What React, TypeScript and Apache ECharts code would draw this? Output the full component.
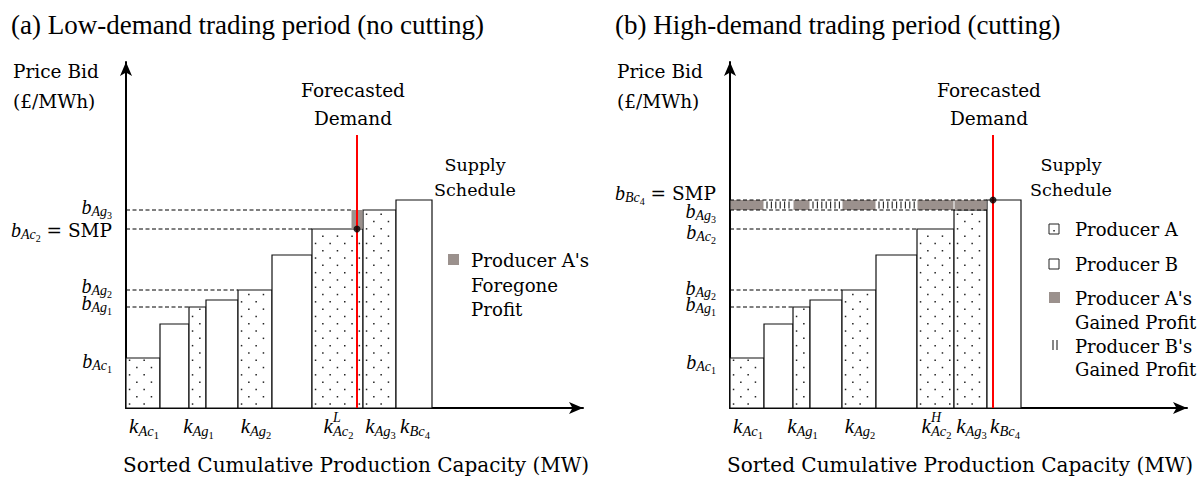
import React, { useEffect, useRef } from "react";
import * as echarts from "echarts";

// ---------------- data ----------------
const producers = ["A", "B", "A", "B", "A", "B", "A", "A", "B"];
const bids = [50, 84, 101, 108, 118, 153, 179, 198, 208];
const capacityLow = [34, 29, 17, 32, 34, 40, 51, 33, 36];
const capacityHigh = [34, 29, 17, 32, 34, 41, 37, 33, 34];
const demandLow = 231;
const demandHigh = 263;
const foregoneFromLow = 225;
const demandLineTop = 273;
const xAxisMax = 457;
const yAxisMax = 346;

const unitType = ["Ac", "", "Ag", "", "Ag", "", "Ac", "Ag", "Bc"];
const unitIdx = ["1", "", "1", "", "2", "", "2", "3", "4"];
const kTickBars = [0, 2, 4, 6, 7, 8];
const kSuper = ["L", "H"];
const bTickBarsLow = [0, 2, 4, 6, 7];
const bTickBarsHigh = [0, 2, 4, 6, 7, 8];
const smpBar = [6, 8];

const titles = ["(a)", "(b)"];
const titleTexts = ["Low-demand trading period (no cutting)", "High-demand trading period (cutting)"];
const yAxisName = ["Price Bid", "(£/MWh)"];
const xAxisName = "Sorted Cumulative Production Capacity (MW)";
const demandName = ["Forecasted", "Demand"];
const supplyName = ["Supply", "Schedule"];
const legendLow = ["Producer A's", "Foregone", "Profit"];
const legendHigh = [["Producer A"], ["Producer B"], ["Producer A's", "Gained Profit"], ["Producer B's", "Gained Profit"]];

// ---------------- layout ----------------
const GRIDS = [
  { left: 126, top: 62, width: 457, height: 346 },
  { left: 730, top: 62, width: 457, height: 346 },
];
const TXT = "'DejaVu Serif', serif";
const MATH = "'Liberation Serif', serif";
const TITLEF = "'Liberation Serif', serif";
const GRAY = "#9b918d";
const bLabelDy = [
  { 0: 3, 2: -4, 4: -4, 6: 1, 7: -3 },
  { 0: 4, 2: -3, 4: -2, 6: 3, 7: 1, 8: -7 },
];

function cumulate(caps: number[]) {
  let c = 0;
  return caps.map((w, i) => {
    const s = c;
    c += w;
    return [s, c, bids[i], producers[i] === "A" ? 1 : 0];
  });
}

let measureCtx: CanvasRenderingContext2D | null = null;
function tw(text: string, size: number, family: string, italic: boolean) {
  if (!measureCtx) measureCtx = document.createElement("canvas").getContext("2d");
  measureCtx!.font = `${italic ? "italic " : ""}${size}px ${family}`;
  return measureCtx!.measureText(text).width;
}

type Part = { t: string; s: number; it?: boolean; dy: number; f?: string; over?: boolean };
function mathText(x: number, y: number, parts: Part[], align: "left" | "right" | "center") {
  let total = 0;
  const widths = parts.map((p) => {
    const w = tw(p.t, p.s, p.f || MATH, !!p.it);
    if (!p.over) total += w;
    return w;
  });
  let cur = align === "right" ? x - total : align === "center" ? x - total / 2 : x;
  const els: any[] = [];
  parts.forEach((p, i) => {
    els.push({
      type: "text",
      x: cur,
      y: y + p.dy,
      z: 100,
      silent: true,
      style: {
        text: p.t,
        fontSize: p.s,
        fontStyle: p.it ? "italic" : "normal",
        fontFamily: p.f || MATH,
        fill: "#000",
        textAlign: "left",
        textVerticalAlign: "middle",
        align: "left",
        verticalAlign: "middle",
      },
    });
    if (!p.over) cur += widths[i];
  });
  return els;
}

function txt(x: number, y: number, text: string, size: number, family: string, align = "left") {
  return {
    type: "text",
    x,
    y,
    z: 100,
    silent: true,
    style: {
      text,
      fontSize: size,
      fontFamily: family,
      fill: "#000",
      textAlign: align,
      textVerticalAlign: "middle",
      align,
      verticalAlign: "middle",
    },
  };
}

export default function App() {
  const ref = useRef<HTMLDivElement>(null);
  useEffect(() => {
    document.body.style.margin = "0";
    const chart = echarts.init(ref.current!, undefined, { renderer: "svg" });
    const barsData = [cumulate(capacityLow), cumulate(capacityHigh)];
    const demands = [demandLow, demandHigh];

    const axisLine = {
      show: true,
      onZero: false,
      symbol: ["none", "arrow"],
      symbolSize: [9, 14],
      lineStyle: { color: "#000", width: 2 },
    };
    const hidden = { axisTick: { show: false }, axisLabel: { show: false }, splitLine: { show: false } };

    const barSeries = (p: number) => ({
      type: "custom",
      xAxisIndex: p,
      yAxisIndex: p,
      z: 2,
      silent: true,
      data: barsData[p],
      renderItem: (params: any, api: any) => {
        const s = api.value(0), e = api.value(1), h = api.value(2), isA = api.value(3);
        const p0 = api.coord([s, 0]);
        const p1 = api.coord([e, h]);
        const x = p0[0], y = p1[1], w = p1[0] - p0[0], hh = p0[1] - p1[1];
        const children: any[] = [
          { type: "rect", shape: { x, y, width: w, height: hh }, style: { fill: "#fff", stroke: "#111", lineWidth: 1.2 } },
        ];
        if (isA) {
          const step = 7.3;
          let r = 0;
          for (let yy = p0[1] - 4; yy > y + 2; yy -= step, r++) {
            for (let xx = x + 3.5 + (r % 2 ? step : 0); xx < x + w - 1.5; xx += step * 2) {
              children.push({ type: "rect", shape: { x: xx - 0.7, y: yy - 0.7, width: 1.5, height: 1.5 }, style: { fill: "#222" } });
            }
          }
        }
        return { type: "group", children };
      },
    });

    const lineSeries = (p: number, data: number[][], style: any, z: number, vertical = false) => ({
      type: "custom",
      xAxisIndex: p,
      yAxisIndex: p,
      z,
      silent: true,
      data,
      renderItem: (params: any, api: any) => {
        const a = vertical ? api.coord([api.value(0), 0]) : api.coord([0, api.value(1)]);
        const b = api.coord([api.value(0), api.value(1)]);
        return { type: "line", shape: { x1: a[0], y1: a[1], x2: b[0], y2: b[1] }, style };
      },
    });

    const areaSeries = (p: number, data: number[][], z: number) => ({
      type: "custom",
      xAxisIndex: p,
      yAxisIndex: p,
      z,
      silent: true,
      data,
      renderItem: (params: any, api: any) => {
        const a = api.coord([api.value(0), api.value(3)]);
        const b = api.coord([api.value(1), api.value(2)]);
        const isA = api.value(4);
        const x = a[0], y = a[1], w = b[0] - a[0], h = b[1] - a[1];
        if (isA) return { type: "rect", shape: { x: x + 0.5, y, width: w - 1, height: h }, style: { fill: GRAY } };
        const children: any[] = [{ type: "rect", shape: { x, y, width: w, height: h }, style: { fill: "#fff" } }];
        for (let xx = x + 3; xx < x + w - 2; xx += 4.4) {
          children.push({ type: "line", shape: { x1: xx, y1: y + 1.5, x2: xx, y2: y + h - 1.5 }, style: { stroke: "#222", lineWidth: 1.1 } });
        }
        return { type: "group", children };
      },
    });

    const dash = { stroke: "#000", lineWidth: 1, lineDash: [4, 2.5] };
    const bl = barsData[0], bh = barsData[1];
    const dashedLow = [
      [bl[2][0], bids[2]],
      [bl[4][0], bids[4]],
      [bl[6][0], bids[6]],
      [foregoneFromLow, bids[7]],
    ];
    const dashedHigh = [
      [bh[2][0], bids[2]],
      [bh[4][0], bids[4]],
      [bh[6][0], bids[6]],
      [bh[7][1], bids[7]],
      [bh[7][1], bids[8]],
    ];
    const foregone = [[foregoneFromLow, bl[6][1], bids[6], bids[7], 1]];
    const gained = bh.slice(0, 8).map((b) => [b[0], b[1], bids[7], bids[8], b[3]]);

    const option: any = {
      animation: false,
      backgroundColor: "#fff",
      grid: GRIDS.map((g) => ({ ...g })),
      xAxis: [0, 1].map((i) => ({ type: "value", gridIndex: i, min: 0, max: xAxisMax, axisLine, ...hidden })),
      yAxis: [0, 1].map((i) => ({ type: "value", gridIndex: i, min: 0, max: yAxisMax, axisLine, ...hidden })),
      series: [
        barSeries(0),
        barSeries(1),
        lineSeries(0, dashedLow, dash, 1),
        lineSeries(1, dashedHigh, dash, 4),
        areaSeries(0, foregone, 3),
        areaSeries(1, gained, 3),
        lineSeries(0, [[demandLow, demandLineTop]], { stroke: "#ff0000", lineWidth: 2 }, 5, true),
        lineSeries(1, [[demandHigh, demandLineTop]], { stroke: "#ff0000", lineWidth: 2 }, 5, true),
        { type: "scatter", xAxisIndex: 0, yAxisIndex: 0, z: 6, silent: true, symbolSize: 7, itemStyle: { color: "#000" }, data: [[demandLow, bids[6]]] },
        { type: "scatter", xAxisIndex: 1, yAxisIndex: 1, z: 6, silent: true, symbolSize: 7, itemStyle: { color: "#000" }, data: [[demandHigh, bids[8]]] },
      ],
    };
    chart.setOption(option);

    const px = (p: number, x: number, y: number) => chart.convertToPixel({ gridIndex: p } as any, [x, y]) as number[];

    const els: any[] = [];
    [0, 1].forEach((p) => {
      const off = p * 604;
      const bars = barsData[p];
      els.push(txt(11 + off, 25, titles[p] + " " + titleTexts[p], 27, TITLEF));
      els.push(txt(13 + off, 71, yAxisName[0], 18.5, TXT));
      els.push(txt(13 + off, 101, yAxisName[1], 18.5, TXT));
      const dX = px(p, demands[p], 0)[0] - 4;
      els.push(txt(dX, 90, demandName[0], 18.5, TXT, "center"));
      els.push(txt(dX, 118, demandName[1], 18.5, TXT, "center"));
      const supX = p === 0 ? 475 : 1071;
      els.push(txt(supX, 165, supplyName[0], 17.5, TXT, "center"));
      els.push(txt(supX, 190, supplyName[1], 17.5, TXT, "center"));
      els.push(txt(123 + off, 465, xAxisName, 20, TXT));
      kTickBars.forEach((bi) => {
        const b = bars[bi];
        const cx = px(p, (b[0] + b[1]) / 2, 0)[0] + 1;
        const parts: Part[] = [{ t: "k", s: 21, it: true, dy: 0 }];
        if (bi === 6) parts.push({ t: kSuper[p], s: 14, it: true, dy: -9, over: true });
        parts.push({ t: unitType[bi], s: 14.5, it: true, dy: 5 });
        parts.push({ t: unitIdx[bi], s: 10.5, dy: 9 });
        els.push(...mathText(cx, 426, parts, "center"));
      });
      const bt = p === 0 ? bTickBarsLow : bTickBarsHigh;
      const ax = GRIDS[p].left - 14;
      bt.forEach((bi) => {
        const y = px(p, 0, bids[bi])[1] + (bLabelDy[p] as any)[bi];
        const parts: Part[] = [
          { t: "b", s: 20, it: true, dy: 0 },
          { t: unitType[bi], s: 14, it: true, dy: 4.5 },
          { t: unitIdx[bi], s: 10, dy: 8 },
        ];
        if (bi === smpBar[p]) parts.push({ t: " = SMP", s: 18.5, dy: 0, f: TXT });
        els.push(...mathText(ax, y, parts, "right"));
      });
    });
    // legend (a)
    els.push({ type: "rect", z: 100, silent: true, shape: { x: 448, y: 254, width: 11, height: 11 }, style: { fill: GRAY } });
    const lowYs = [260, 285, 309];
    legendLow.forEach((t, i) => els.push(txt(471, lowYs[i], t, 18.2, TXT)));
    // legend (b)
    const lx = 1049;
    els.push({ type: "rect", z: 100, silent: true, shape: { x: lx, y: 224, width: 10, height: 10 }, style: { fill: "#fff", stroke: "#222", lineWidth: 1 } });
    els.push({ type: "rect", z: 101, silent: true, shape: { x: lx + 4.3, y: 230, width: 1.5, height: 1.5 }, style: { fill: "#222" } });
    els.push({ type: "rect", z: 100, silent: true, shape: { x: lx, y: 259, width: 10, height: 10 }, style: { fill: "#fff", stroke: "#222", lineWidth: 1 } });
    els.push({ type: "rect", z: 100, silent: true, shape: { x: lx, y: 292, width: 11, height: 11 }, style: { fill: GRAY } });
    els.push({ type: "line", z: 100, silent: true, shape: { x1: lx + 4, y1: 340, x2: lx + 4, y2: 350 }, style: { stroke: "#222", lineWidth: 1.1 } });
    els.push({ type: "line", z: 100, silent: true, shape: { x1: lx + 8, y1: 340, x2: lx + 8, y2: 350 }, style: { stroke: "#222", lineWidth: 1.1 } });
    const lys = [[229], [264], [298, 322], [346, 369]];
    legendHigh.forEach((lines, i) => lines.forEach((t, j) => els.push(txt(1075, lys[i][j], t, 18, TXT))));

    chart.setOption({ graphic: { elements: els } });
    return () => chart.dispose();
  }, []);
  return <div ref={ref} style={{ width: 1200, height: 477 }} />;
}
